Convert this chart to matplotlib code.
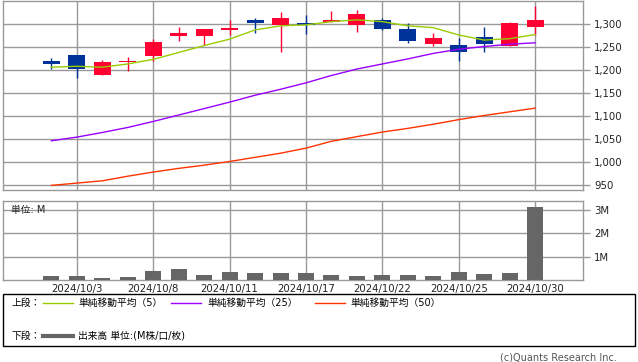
import matplotlib
matplotlib.use("Agg")
import matplotlib.pyplot as plt
from matplotlib.patches import Rectangle

plt.rcParams["font.family"] = ["DejaVu Sans", "Noto Sans CJK JP"]

# daily data, 2024/10/2 .. 2024/10/30
dates = ["10/2", "10/3", "10/4", "10/7", "10/8", "10/9", "10/10", "10/11",
         "10/15", "10/16", "10/17", "10/18", "10/21", "10/22", "10/23",
         "10/24", "10/25", "10/28", "10/29", "10/30"]
opens = [1220, 1233, 1190, 1218, 1231, 1273, 1273, 1286, 1309, 1298,
         1301, 1304, 1298, 1309, 1290, 1257, 1255, 1272, 1253, 1294]
highs = [1227, 1233, 1222, 1229, 1267, 1294, 1290, 1309, 1314, 1325,
         1320, 1329, 1331, 1312, 1301, 1281, 1270, 1294, 1305, 1338]
lows = [1203, 1183, 1190, 1198, 1220, 1262, 1255, 1277, 1281, 1240,
        1279, 1304, 1283, 1287, 1259, 1251, 1220, 1240, 1253, 1277]
closes = [1212, 1201, 1218, 1220, 1261, 1281, 1288, 1292, 1301, 1314,
          1297, 1309, 1322, 1288, 1262, 1270, 1240, 1256, 1301, 1309]
ma5 = [1206, 1208, 1206, 1213, 1223, 1238, 1253, 1267, 1287, 1296,
       1298, 1305, 1309, 1305, 1296, 1292, 1276, 1265, 1268, 1277]
ma25 = [1046, 1054, 1064, 1075, 1088, 1102, 1116, 1130, 1145, 1158,
        1172, 1188, 1202, 1213, 1224, 1236, 1245, 1251, 1256, 1259]
ma50 = [949, 954, 959, 969, 978, 986, 993, 1001, 1010, 1019,
        1030, 1045, 1055, 1065, 1073, 1082, 1092, 1101, 1109, 1117]
volume_m = [0.17, 0.17, 0.09, 0.13, 0.39, 0.47, 0.21, 0.34, 0.30, 0.30,
            0.30, 0.21, 0.17, 0.21, 0.21, 0.17, 0.34, 0.26, 0.30, 3.13]

label_idx = [1, 4, 7, 10, 13, 16, 19]
price_ticks = [950, 1000, 1050, 1100, 1150, 1200, 1250, 1300]
vol_ticks = [1, 2, 3]

UP = "#ff0033"
DOWN = "#003399"
GRID = "#999999"

fig = plt.figure(figsize=(6.38, 3.62), dpi=100)
ax = fig.add_axes([3 / 638, 1 - 190 / 362, 580 / 638, 189.5 / 362])
axv = fig.add_axes([3 / 638, 1 - 280 / 362, 580 / 638, 79 / 362])

x = list(range(len(dates)))
xlim = (-1.9, 20.88)


def style(a):
    for s in a.spines.values():
        s.set_color(GRID)
        s.set_linewidth(1)
    a.yaxis.tick_right()
    a.tick_params(axis="y", colors=GRID, length=5, width=1, labelcolor="#222222",
                  labelsize=7.3, pad=3)
    a.tick_params(axis="x", length=0)
    a.grid(True, color=GRID, linewidth=1)
    a.set_axisbelow(True)
    a.set_xlim(*xlim)
    a.set_xticks(label_idx)


style(ax)
style(axv)

# candles
for i in x:
    o, h, l, c = opens[i], highs[i], lows[i], closes[i]
    col = UP if c >= o else DOWN
    ax.vlines(i, l, h, color=col, linewidth=1, zorder=2)
    ax.bar(i, max(abs(c - o), 0.8), bottom=min(o, c), width=0.67, color=col,
           zorder=3, linewidth=0)

ax.plot(x, ma5, color="#99cc00", linewidth=1, zorder=4)
ax.plot(x, ma25, color="#9900ff", linewidth=1, zorder=4)
ax.plot(x, ma50, color="#ff3300", linewidth=1, zorder=4)

ax.set_ylim(939, 1351)
ax.set_yticks(price_ticks)
ax.set_yticklabels([f"{v:,}" for v in price_ticks])
ax.set_xticklabels([])

# volume
axv.bar(x, volume_m, width=0.63, color="#666666", zorder=3)
axv.set_ylim(0, 3.39)
axv.set_yticks(vol_ticks)
axv.set_yticklabels([f"{v}M" for v in vol_ticks])
axv.set_xticklabels(["2024/" + dates[i] for i in label_idx], fontsize=7.3,
                    color="#222222")
axv.tick_params(axis="x", pad=3)
axv.text(8 / 580, (280 - 210) / 79, "単位: M", transform=axv.transAxes,
         fontsize=7, va="center", ha="left", color="#222222")

# legend box
fig.patches.append(Rectangle((3 / 638, 1 - 346 / 362), 632 / 638, 52 / 362,
                             transform=fig.transFigure, fill=False,
                             edgecolor="black", linewidth=1))


def fx(px):
    return px / 638


def fy(py):
    return 1 - py / 362


fs = 7
fig.text(fx(12), fy(303), "上段：", fontsize=fs, va="center", ha="left")
items = [(43, 78, "#99cc00", "単純移動平均（5）"),
         (171, 207, "#9900ff", "単純移動平均（25）"),
         (315, 350, "#ff3300", "単純移動平均（50）")]
for x0, tx, col, lab in items:
    fig.lines.append(plt.Line2D([fx(x0), fx(x0 + 30)], [fy(303), fy(303)],
                                transform=fig.transFigure, color=col, linewidth=1))
    fig.text(fx(tx), fy(303), lab, fontsize=fs, va="center", ha="left")

fig.text(fx(12), fy(336), "下段：", fontsize=fs, va="center", ha="left")
fig.lines.append(plt.Line2D([fx(43), fx(73)], [fy(336), fy(336)],
                            transform=fig.transFigure, color="#666666", linewidth=3))
fig.text(fx(78), fy(336), "出来高 単位:(M株/口/枚)", fontsize=fs, va="center", ha="left")

fig.text(fx(617), fy(357), "(c)Quants Research Inc.", fontsize=7, va="center",
         ha="right", color="#555555")

fig.savefig("out.png", dpi=100)
